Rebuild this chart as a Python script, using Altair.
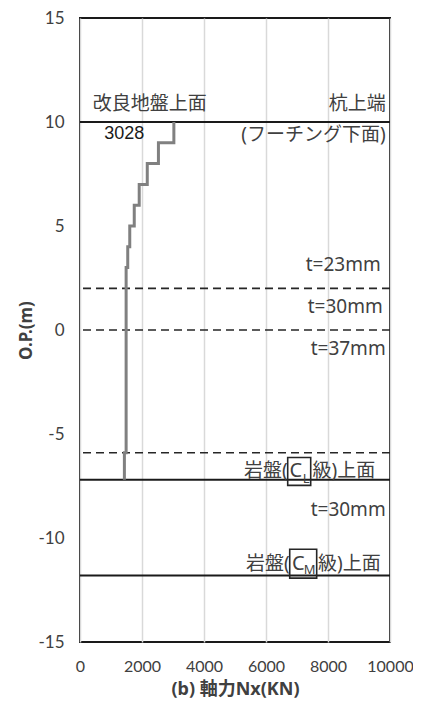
import altair as alt
import pandas as pd

# ---- data ----
step_x = [3028, 3028, 2530, 2530, 2170, 2170, 1910, 1910, 1750, 1750, 1605, 1605, 1540, 1540, 1488, 1488, 1432, 1432]
step_y = [10, 9, 9, 8, 8, 7, 7, 6, 6, 5, 5, 4, 4, 3, 3, -5.9, -5.9, -7.2]

solid_levels = [10, -7.2, -11.8]
dashed_levels = [2.0, 0.0, -5.9]

x_ticks = [0, 2000, 4000, 6000, 8000, 10000]
y_ticks = [-15, -10, -5, 0, 5, 10, 15]

# annotations (text, x, y in data units)
right_texts = ["杭上端", "(フーチング下面)", "t=23mm", "t=30mm", "t=37mm", "t=30mm"]
right_x = [9860, 9860, 9700, 9765, 9860, 9860]
right_y = [10.86, 9.39, 3.12, 1.10, -0.91, -8.67]

left_texts = ["改良地盤上面", "級)上面", "級)上面"]
left_x = [410, 7500, 7680]
left_y = [10.86, -6.80, -11.26]

pre_texts = ["岩盤(", "岩盤("]
pre_x = [6700, 6765]
pre_y = [-6.80, -11.26]

c_texts = ["C", "C"]
c_x = [6958, 7039]
c_y = [-6.80, -11.26]

sub_texts = ["L", "M"]
sub_x = [7297, 7410]
sub_y = [-7.18, -11.55]

box_x1 = [6700, 6765]
box_x2 = [7442, 7635]
box_y1 = [-6.13, -10.54]
box_y2 = [-7.47, -11.93]

value_label = ["3028"]
value_x = [1425]
value_y = [9.44]

# ---- tables ----
step_df = pd.DataFrame({"x": step_x, "y": step_y, "i": list(range(len(step_x)))})
solid_df = pd.DataFrame({"y": solid_levels})
dashed_df = pd.DataFrame({"y": dashed_levels})
right_df = pd.DataFrame({"t": right_texts, "x": right_x, "y": right_y})
left_df = pd.DataFrame({"t": left_texts, "x": left_x, "y": left_y})
pre_df = pd.DataFrame({"t": pre_texts, "x": pre_x, "y": pre_y})
c_df = pd.DataFrame({"t": c_texts, "x": c_x, "y": c_y})
sub_df = pd.DataFrame({"t": sub_texts, "x": sub_x, "y": sub_y})
box_df = pd.DataFrame({"x": box_x1, "x2": box_x2, "y": box_y1, "y2": box_y2})
val_df = pd.DataFrame({"t": value_label, "x": value_x, "y": value_y})

XS = alt.Scale(domain=[0, 10000], nice=False, zero=False)
YS = alt.Scale(domain=[-15, 15], nice=False, zero=False)

TXT_FONT = "Noto Sans, Noto Sans CJK JP"
TXT_COLOR = "#404040"
FS = 19
H = 624

x_axis = alt.Axis(values=x_ticks, grid=True, gridColor="#d9d9d9", gridWidth=1.5,
                  domain=False, ticks=False, tickSize=0, labelPadding=16,
                  labelExpr="datum.value + ''", labelOverlap=False, labelFlush=False,
                  labelFont="Lato", labelFontSize=16, labelColor="#404040",
                  title="(b) 軸力Nx(KN)", titleFont=TXT_FONT, titleFontSize=18,
                  titleFontWeight="bold", titleColor="#404040",
                  titleY=47, titleBaseline="middle")
y_axis = alt.Axis(values=y_ticks, grid=False, domain=False, ticks=False, tickSize=0,
                  labelPadding=16, labelExpr="datum.value + ''", labelOverlap=False,
                  labelFlush=False,
                  labelFont="Lato", labelFontSize=17, labelColor="#404040",
                  title="O.P.(m)", titleFont=TXT_FONT, titleFontSize=17,
                  titleFontWeight="bold", titleColor="#404040",
                  titleX=-54, titleY=H / 2, titleAngle=-90, titleAlign="center",
                  titleBaseline="middle")

base_axes = alt.Chart(step_df).mark_line(color="#808080", strokeWidth=3).encode(
    x=alt.X("x:Q", scale=XS, axis=x_axis),
    y=alt.Y("y:Q", scale=YS, axis=y_axis),
    order="i:Q",
)

solid = alt.Chart(solid_df).mark_rule(color="#1a1a1a", strokeWidth=2).encode(
    y=alt.Y("y:Q", scale=YS))
dashed = alt.Chart(dashed_df).mark_rule(color="#262626", strokeWidth=1.6, strokeDash=[8, 5]).encode(
    y=alt.Y("y:Q", scale=YS))

def txt(df, align, size=FS, color=TXT_COLOR, font=TXT_FONT):
    return alt.Chart(df).mark_text(align=align, baseline="middle", fontSize=size,
                                   font=font, color=color).encode(
        x=alt.X("x:Q", scale=XS), y=alt.Y("y:Q", scale=YS), text="t:N")

right_t = txt(right_df, "right")
left_t = txt(left_df, "left")
pre_t = txt(pre_df, "right")
c_t = txt(c_df, "center", size=20)
sub_t = txt(sub_df, "center", size=13)
val_t = txt(val_df, "center", size=18, color="#1a1a1a", font="Liberation Sans")

boxes = alt.Chart(box_df).mark_rect(fill=None, stroke="#262626", strokeWidth=1.6, fillOpacity=0).encode(
    x=alt.X("x:Q", scale=XS), x2="x2:Q", y=alt.Y("y:Q", scale=YS), y2="y2:Q")

chart = alt.layer(solid, dashed, base_axes, boxes, right_t, left_t, pre_t, c_t, sub_t, val_t).properties(
    width=310, height=H,
    autosize=alt.AutoSizeParams(type="none"),
    padding={"left": 72, "top": 10, "right": 23, "bottom": 60},
).configure_view(stroke="#1a1a1a", strokeWidth=2)

chart.save("out.html", embed_options={"renderer": "svg", "actions": False})
